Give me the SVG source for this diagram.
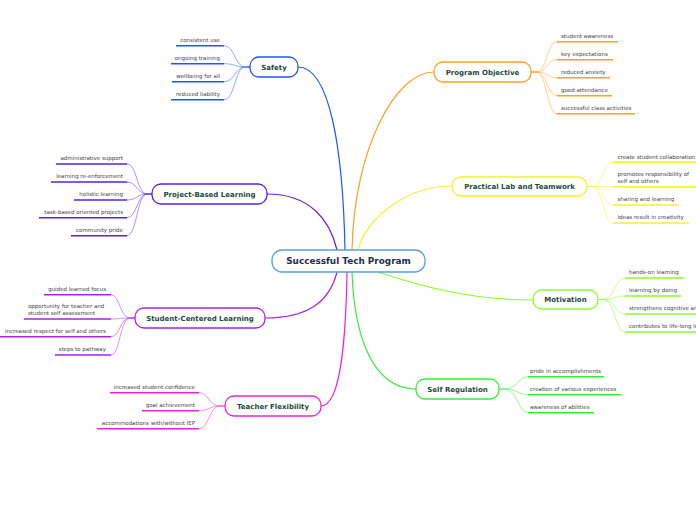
<svg xmlns="http://www.w3.org/2000/svg" width="696" height="520" viewBox="0 0 696 520">
<style>
.node{fill:#fff;stroke-width:1.3}
.nt{font-family:"DejaVu Sans",Verdana,sans-serif;font-weight:bold;font-size:7px;fill:#1b4a3c;text-anchor:middle}
.ct{font-family:"DejaVu Sans",Verdana,sans-serif;font-size:5.5px;fill:#444}
.r{text-anchor:end}
.ul{stroke-width:1.6;fill:none}
.cc{stroke-width:0.9;fill:none;opacity:0.55}
.mc{stroke-width:1.2;fill:none}
</style>
<rect width="696" height="520" fill="#fff"/>
<g id="connectors">
<path class="mc" stroke="#2255ff" d="M298,67 C330,67 343,150 345,250"/>
<path class="mc" stroke="#ffa020" d="M434,72 C395,72 354,150 352,250"/>
<path class="mc" stroke="#f2f22a" d="M452,186 C405,186 365,220 358,250"/>
<path class="mc" stroke="#5522ee" d="M267,194 C310,194 330,220 337,250"/>
<path class="mc" stroke="#aa22ee" d="M265,318 C310,318 330,300 337,272"/>
<path class="mc" stroke="#ee22dd" d="M321,406 C342,406 346,330 347,272"/>
<path class="mc" stroke="#33ee33" d="M416,389 C370,389 354,330 352,272"/>
<path class="mc" stroke="#88ff22" d="M533,300 C470,300 420,286 378,272"/>
</g>
<g id="center">
<rect x="272" y="250" width="153" height="22" rx="10" fill="#fff" stroke="#5b9fd8" stroke-width="1.3"/>
<text x="348.5" y="264.2" font-family="DejaVu Sans,Verdana,sans-serif" font-weight="bold" font-size="8.9" fill="#1e2b4f" text-anchor="middle">Successful Tech Program</text>
</g>
<g id="safety">
<g stroke="#2255ff">
<path class="cc" d="M250,67 h-5 C235,67 235,45.7 224,45.7"/>
<path class="cc" d="M250,67 h-5 C235,67 235,63.7 224,63.7"/>
<path class="cc" d="M250,67 h-5 C235,67 235,81.7 224,81.7"/>
<path class="cc" d="M250,67 h-5 C235,67 235,99.7 224,99.7"/>
<path class="ul" d="M176,45.7H224M171,63.7H224M172,81.7H224M171,99.7H224"/>
</g>
<rect class="node" x="250" y="57" width="48" height="20" rx="9" stroke="#2255ff"/>
<text class="nt" x="274" y="69.5">Safety</text>
<text class="ct r" x="220" y="42">consistent use</text>
<text class="ct r" x="220" y="60">ongoing training</text>
<text class="ct r" x="220" y="78">wellbeing for all</text>
<text class="ct r" x="220" y="96">reduced liability</text>
</g>
<g id="program-objective">
<g stroke="#ffa020">
<path class="cc" d="M531,72 h5 C547,72 547,41.7 557,41.7"/>
<path class="cc" d="M531,72 h5 C547,72 547,59.7 557,59.7"/>
<path class="cc" d="M531,72 h5 C547,72 547,77.7 557,77.7"/>
<path class="cc" d="M531,72 h5 C547,72 547,95.7 557,95.7"/>
<path class="cc" d="M531,72 h5 C547,72 547,113.7 557,113.7"/>
<path class="ul" d="M557,41.7H618M557,59.7H613M557,77.7H610M557,95.7H612M557,113.7H635"/>
</g>
<rect class="node" x="434" y="62" width="97" height="20" rx="9" stroke="#ffa020"/>
<text class="nt" x="482.5" y="74.5">Program Objective</text>
<text class="ct" x="561" y="38">student awareness</text>
<text class="ct" x="561" y="56">key expectations</text>
<text class="ct" x="561" y="74">reduced anxiety</text>
<text class="ct" x="561" y="92">good attendance</text>
<text class="ct" x="561" y="110">successful class activities</text>
</g>
<g id="practical-lab">
<g stroke="#f2f22a">
<path class="cc" d="M587,186.5 h5 C603,186.5 603,162.3 613,162.3"/>
<path class="cc" d="M587,186.5 h5 C603,186.5 603,186.7 613,186.7"/>
<path class="cc" d="M587,186.5 h5 C603,186.5 603,205 613,205"/>
<path class="cc" d="M587,186.5 h5 C603,186.5 603,223 613,223"/>
<path class="ul" d="M613,162.3H700M613,186.7H700M613,205H679M613,223H689"/>
</g>
<rect class="node" x="452" y="177" width="135" height="19" rx="9" stroke="#f2f22a"/>
<text class="nt" x="519.5" y="189">Practical Lab and Teamwork</text>
<text class="ct" x="617.5" y="158.6">create student collaboration</text>
<text class="ct" x="617.5" y="176">promotes responsibility of</text>
<text class="ct" x="617.5" y="183">self and others</text>
<text class="ct" x="617.5" y="201.3">sharing and learning</text>
<text class="ct" x="617.5" y="219.3">ideas result in creativity</text>
</g>
<g id="project-based">
<g stroke="#5522ee">
<path class="cc" d="M152,194 h-5 C137,194 137,164 127,164"/>
<path class="cc" d="M152,194 h-5 C137,194 137,182 127,182"/>
<path class="cc" d="M152,194 h-5 C137,194 137,200 127,200"/>
<path class="cc" d="M152,194 h-5 C137,194 137,217.7 127,217.7"/>
<path class="cc" d="M152,194 h-5 C137,194 137,235.7 127,235.7"/>
<path class="ul" d="M56,164H127M51,182H127M74,200H127M39,217.7H127M71,235.7H127"/>
</g>
<rect class="node" x="152" y="184" width="115" height="20" rx="9" stroke="#5522ee"/>
<text class="nt" x="209.5" y="196.5">Project-Based Learning</text>
<text class="ct r" x="123" y="160.3">administrative support</text>
<text class="ct r" x="123" y="178.3">learning re-enforcement</text>
<text class="ct r" x="123" y="196.3">holistic learning</text>
<text class="ct r" x="123" y="214">task-based oriented projects</text>
<text class="ct r" x="123" y="232">community pride</text>
</g>
<g id="student-centered">
<g stroke="#aa22ee">
<path class="cc" d="M135,318 h-5 C120,318 120,294.7 111,294.7"/>
<path class="cc" d="M135,318 h-5 C120,318 120,319 111,319"/>
<path class="cc" d="M135,318 h-5 C120,318 120,336.7 111,336.7"/>
<path class="cc" d="M135,318 h-5 C120,318 120,355 111,355"/>
<path class="ul" d="M44,294.7H111M24,319H111M0,336.7H111M55,355H111"/>
</g>
<rect class="node" x="135" y="308" width="130" height="20" rx="9" stroke="#aa22ee"/>
<text class="nt" x="200" y="320.5">Student-Centered Learning</text>
<text class="ct r" x="106" y="291">guided learned focus</text>
<text class="ct" x="28" y="308.3">opportunity for teacher and</text>
<text class="ct" x="28" y="315.3">student self assessment</text>
<text class="ct r" x="106" y="333">increased respect for self and others</text>
<text class="ct r" x="106" y="351.3">steps to pathway</text>
</g>
<g id="teacher-flexibility">
<g stroke="#ee22dd">
<path class="cc" d="M225,406 h-5 C209,406 209,392.7 199,392.7"/>
<path class="cc" d="M225,406 h-5 C209,406 209,410.7 199,410.7"/>
<path class="cc" d="M225,406 h-5 C209,406 209,428.7 199,428.7"/>
<path class="ul" d="M110,392.7H199M142,410.7H199M97,428.7H199"/>
</g>
<rect class="node" x="225" y="396" width="96" height="20" rx="9" stroke="#ee22dd"/>
<text class="nt" x="273" y="408.5">Teacher Flexibility</text>
<text class="ct r" x="195" y="389">increased student confidence</text>
<text class="ct r" x="195" y="407">goal achievement</text>
<text class="ct r" x="195" y="425">accommodations with/without IEP</text>
</g>
<g id="self-regulation">
<g stroke="#33ee33">
<path class="cc" d="M499,389 h5 C518,389 518,376.7 528,376.7"/>
<path class="cc" d="M499,389 h5 C518,389 518,394.7 528,394.7"/>
<path class="cc" d="M499,389 h5 C518,389 518,412.7 528,412.7"/>
<path class="ul" d="M528,376.7H604M528,394.7H621M528,412.7H594"/>
</g>
<rect class="node" x="416" y="379" width="83" height="20" rx="9" stroke="#33ee33"/>
<text class="nt" x="457.5" y="391.5">Self Regulation</text>
<text class="ct" x="530" y="373">pride in accomplishments</text>
<text class="ct" x="530" y="391">creation of various experiences</text>
<text class="ct" x="530" y="409">awareness of abilities</text>
</g>
<g id="motivation">
<g stroke="#88ff22">
<path class="cc" d="M598,299.5 h5 C615,299.5 615,278 625,278"/>
<path class="cc" d="M598,299.5 h5 C615,299.5 615,296 625,296"/>
<path class="cc" d="M598,299.5 h5 C615,299.5 615,314 625,314"/>
<path class="cc" d="M598,299.5 h5 C615,299.5 615,332 625,332"/>
<path class="ul" d="M625,278H684M625,296H681M625,314H700M625,332H700"/>
</g>
<rect class="node" x="533" y="290" width="65" height="19" rx="9" stroke="#88ff22"/>
<text class="nt" x="565.5" y="302">Motivation</text>
<text class="ct" x="629" y="274.3">hands-on learning</text>
<text class="ct" x="629" y="292.3">learning by doing</text>
<text class="ct" x="629" y="310.3">strengthens cognitive and</text>
<text class="ct" x="629" y="328.3">contributes to life-long learning</text>
</g>
</svg>
